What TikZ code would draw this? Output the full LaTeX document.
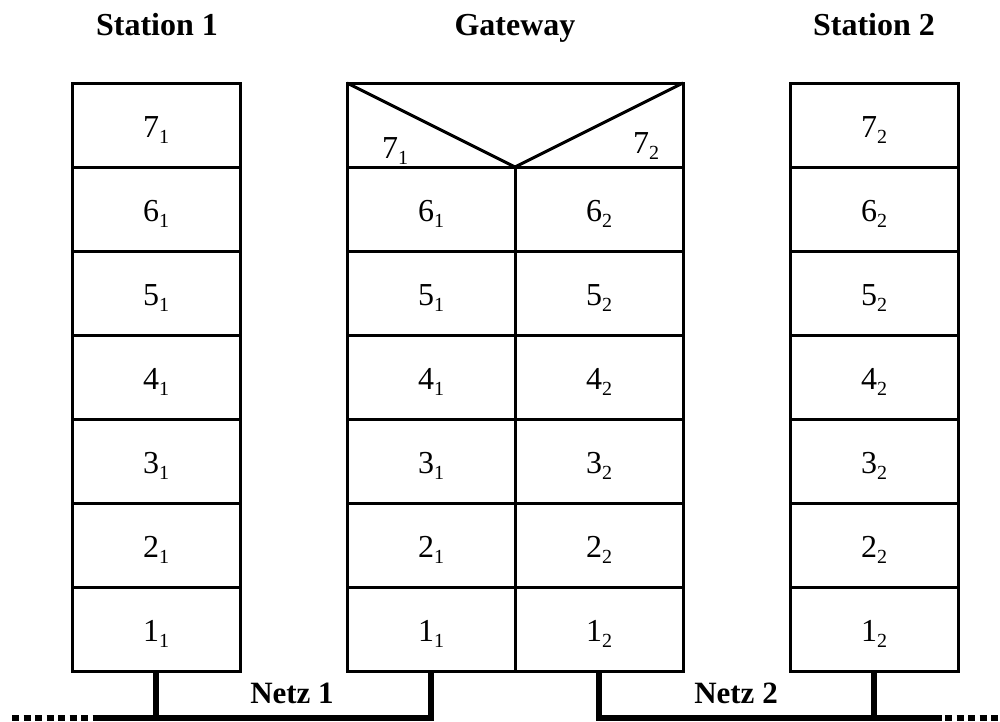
\documentclass[tikz,border=0pt]{standalone}
\usepackage{fontspec}
\setmainfont{Liberation Serif}
\begin{document}
\begin{tikzpicture}[x=1pt,y=-1pt,
  cell/.style={draw,line width=3pt,minimum width=168pt,minimum height=84pt,
    inner sep=0pt,outer sep=0pt,text height=24pt,text depth=0pt,
    font=\fontsize{32}{34}\selectfont},
  title/.style={anchor=base,font=\fontsize{32}{34}\selectfont\bfseries},
  netlabel/.style={anchor=base,font=\fontsize{31}{33}\selectfont\bfseries},
  sublabel/.style={anchor=base west,inner sep=0pt,font=\fontsize{32}{34}\selectfont},
  bus/.style={line width=5.5pt,line join=miter},
  busdot/.style={line width=5.5pt,dash pattern=on 7pt off 4.5pt}]
\newcommand{\lay}[2]{#1\raisebox{-6pt}{\fontsize{20}{20}\selectfont #2}}
\useasboundingbox (0,0) rectangle (1000,721);

% titles
\node[title] (t1) at (157,35) {Station 1};
\node[title] (tg) at (515,35) {Gateway};
\node[title] (t2) at (874,35) {Station 2};

% station 1 and station 2 stacks
\foreach \k/\lbl in {0/7,1/6,2/5,3/4,4/3,5/2,6/1}{
  \node[cell] (s1r\lbl) at (156,125+84*\k) {\lay{\lbl}{1}};
  \node[cell] (s2r\lbl) at (874,125+84*\k) {\lay{\lbl}{2}};
}

% gateway: split top layer and two lower columns
\node[cell,minimum width=336pt] (g7) at (515,125) {};
\draw[line width=3pt,line join=miter] (g7.north west) -- (g7.south) -- (g7.north east);
\node[sublabel] (g7a) at (382,158) {\lay{7}{1}};
\node[sublabel] (g7b) at (633,153) {\lay{7}{2}};
\foreach \k/\lbl in {1/6,2/5,3/4,4/3,5/2,6/1}{
  \node[cell] (gl\lbl) at (431,125+84*\k) {\lay{\lbl}{1}};
  \node[cell] (gr\lbl) at (599,125+84*\k) {\lay{\lbl}{2}};
}

% networks
\coordinate (n1a) at (95,718);
\coordinate (n1b) at (431,718);
\coordinate (n2a) at (599,718);
\coordinate (n2b) at (942,718);
\coordinate (d1) at (12,718);
\coordinate (d2) at (1000,718);
\draw[bus] (n1a) -- (n1b) -- (gl1.south);
\draw[bus] (s1r1.south) -- (s1r1.south |- n1a);
\draw[bus] (gr1.south) -- (n2a) -- (n2b);
\draw[bus] (s2r1.south) -- (s2r1.south |- n2a);
\draw[busdot] (d1) -- (n1a);
\draw[busdot] (945,718) -- (d2);
\node[netlabel] (net1) at (292,703) {Netz 1};
\node[netlabel] (net2) at (736,703) {Netz 2};
\end{tikzpicture}
\end{document}
